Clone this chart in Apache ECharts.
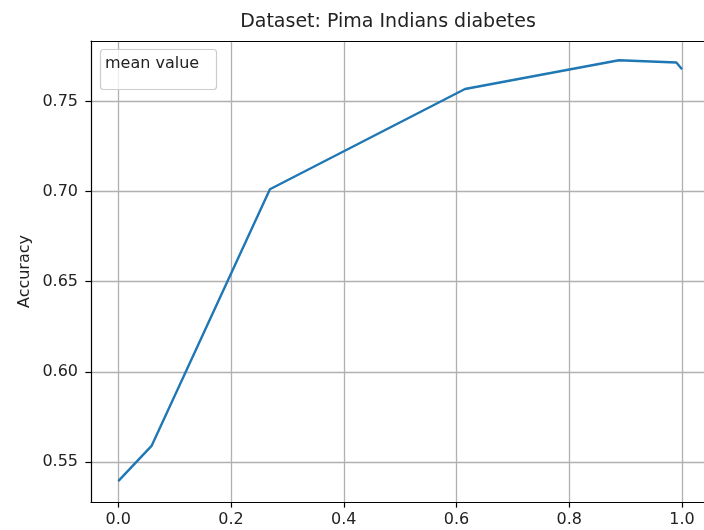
<!DOCTYPE html>
<html>
<head>
<meta charset="utf-8">
<script src="https://cdn.jsdelivr.net/npm/echarts@6/dist/echarts.min.js"></script>
<style>
html,body{margin:0;padding:0;background:#fff;}
#chart{width:704px;height:530px;}
</style>
</head>
<body>
<div id="chart"></div>
<script>
var titleText = "Dataset: Pima Indians diabetes";
var yAxisLabel = "Accuracy";
var legendLabel = "mean value";
var xValues = [0, 0.059, 0.269, 0.615, 0.888, 0.990, 1.0];
var yValues = [0.5394, 0.5589, 0.7013, 0.7569, 0.7728, 0.7716, 0.7678];
var xTicks = [0.0, 0.2, 0.4, 0.6, 0.8, 1.0];
var yTicks = [0.55, 0.60, 0.65, 0.70, 0.75];

var chart = echarts.init(document.getElementById('chart'), null, {renderer: 'canvas'});
var FONT = 'DejaVu Sans';
var seriesData = xValues.map(function (x, i) { return [x, yValues[i]]; });
var X_MIN = -0.0484, X_MAX = 1.0390;

var option = {
  animation: false,
  backgroundColor: '#ffffff',
  grid: {left: 91, top: 41, right: 0, height: 461, show: false},
  xAxis: [{
    type: 'value',
    min: X_MIN, max: X_MAX,
    axisLine: {show: true, onZero: false, lineStyle: {color: '#000', width: 1.2}},
    axisTick: {show: true, inside: false, length: 5.6, lineStyle: {color: '#000', width: 1.2}, customValues: xTicks},
    axisLabel: {show: true, customValues: xTicks, margin: 10, fontFamily: FONT, fontSize: 16, color: '#222',
      formatter: function (v) { return v.toFixed(1); }},
    splitLine: {show: true, lineStyle: {color: '#b0b0b0', width: 1.3}}
  }, {
    type: 'value', position: 'top',
    min: X_MIN, max: X_MAX,
    axisLine: {show: true, onZero: false, lineStyle: {color: '#000', width: 1.2}},
    axisTick: {show: false}, axisLabel: {show: false}, splitLine: {show: false}
  }],
  yAxis: {
    type: 'value',
    min: 0.5278, max: 0.7835,
    axisLine: {show: true, onZero: false, lineStyle: {color: '#000', width: 1.2}},
    axisTick: {show: true, inside: false, length: 5.6, lineStyle: {color: '#000', width: 1.2}, customValues: yTicks},
    axisLabel: {show: true, customValues: yTicks, margin: 13, fontFamily: FONT, fontSize: 16, color: '#222',
      formatter: function (v) { return v.toFixed(2); }},
    splitLine: {show: true, lineStyle: {color: '#b0b0b0', width: 1.3}}
  },
  series: [{
    type: 'line',
    xAxisIndex: 0,
    data: seriesData,
    showSymbol: false,
    symbol: 'none',
    lineStyle: {color: '#1f77b4', width: 2.4},
    z: 3
  }],
  graphic: [
    {type: 'text', x: 388, y: 22.5, z: 10,
      style: {text: titleText, fontFamily: FONT, fontSize: 19, fill: '#222', align: 'center', verticalAlign: 'middle'}},
    {type: 'text', x: 25, y: 271.5, rotation: Math.PI / 2, z: 10,
      style: {text: yAxisLabel, fontFamily: FONT, fontSize: 16, fill: '#222', align: 'center', verticalAlign: 'middle'}},
    {type: 'rect', z: 20,
      shape: {x: 100.5, y: 49.5, width: 116, height: 40, r: 3},
      style: {fill: 'rgba(255,255,255,0.8)', stroke: '#cccccc', lineWidth: 1.2}},
    {type: 'text', x: 105, y: 63.5, z: 21,
      style: {text: legendLabel, fontFamily: FONT, fontSize: 16, fill: '#222', align: 'left', verticalAlign: 'middle'}}
  ]
};
chart.setOption(option);
</script>
</body>
</html>
